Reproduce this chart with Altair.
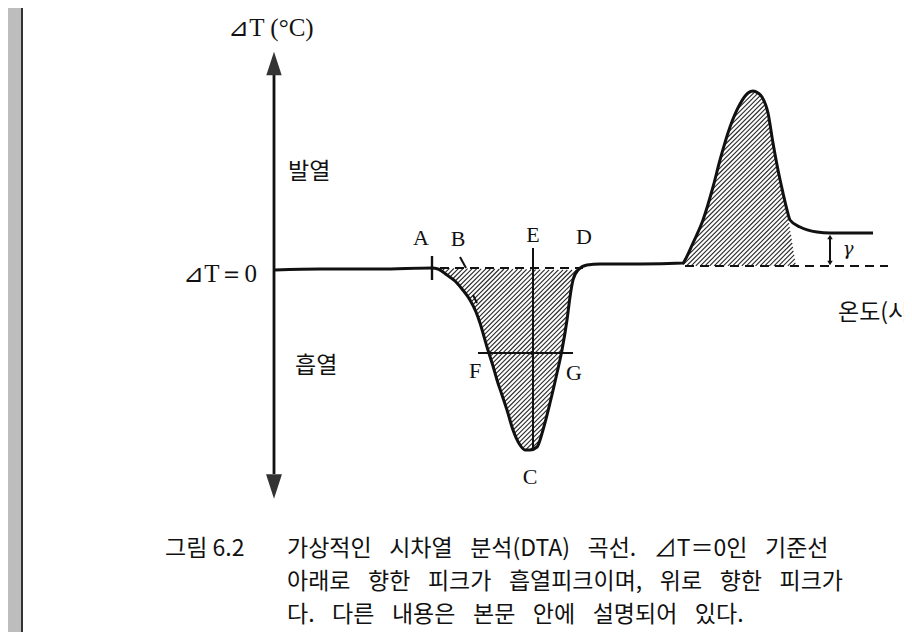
import altair as alt
import numpy as np
import pandas as pd

# ---------------- data ----------------
# temperature axis t (arbitrary units, 0 at the ΔT axis), ΔT in arbitrary units (0 = baseline)
curve_t = [0, 45, 105, 157, 163, 172, 180, 187, 195, 201, 205, 212, 218, 222, 227, 232, 238, 245, 250, 255,
           262, 268, 275, 282, 287, 292, 295, 298, 303, 312, 325, 365, 408, 410, 418, 428, 438, 445, 455, 465,
           473, 478, 483, 487, 493, 498, 503, 508, 512, 515, 525, 542, 555, 598]
curve_dT = [-2, -1, -1, 0, -1, -7, -13, -21, -32, -44, -55, -79, -98, -112, -127, -142, -162, -177, -182, -182,
            -179, -162, -135, -105, -82, -52, -29, -12, -2, 3, 4, 4, 5, 8, 25, 48, 81, 108, 141, 164,
            175, 177, 175, 171, 155, 125, 98, 75, 58, 48, 41, 36, 35, 35]

endo_range = (157, 303)          # hatched endothermic peak (A ... D)
exo_range = (408, 512)           # hatched exothermic peak
exo_close = [(521, 2), (408, 2)]  # right edge of the exothermic hatch, back along the baseline

label_text = ["A", "B", "E", "D", "F", "G", "C"]
label_t = [146, 183, 258, 309, 200, 299, 255]
label_dT = [30, 29, 33, 31, -103, -105, -209]

SP = "\u2002\u2009\u200a"  # wide word space of the caption typeface
caption_fig = "그림 6.2"
caption_lines = [
    SP.join(["가상적인", "시차열", "분석(DTA)", "곡선.", "⊿T＝0인", "기준선"]),
    SP.join(["아래로", "향한", "피크가", "흡열피크이며,", "위로", "향한", "피크가"]),
    SP.join(["다.", "다른", "내용은", "본문", "안에", "설명되어", "있다."]),
]

T_DOM = [-267, 629]
D_DOM = [-364, 260]

X = lambda f="t": alt.X(f, type="quantitative", scale=alt.Scale(domain=T_DOM, nice=False, zero=False), axis=None)
Y = lambda f="dT": alt.Y(f, type="quantitative", scale=alt.Scale(domain=D_DOM, nice=False, zero=False), axis=None)


def inside_poly(xs, ys, P):
    res = np.zeros(len(xs), bool)
    n = len(P)
    j = n - 1
    for i in range(n):
        xi, yi = P[i]
        xj, yj = P[j]
        cond = ((yi > ys) != (yj > ys)) & (xs < (xj - xi) * (ys - yi) / (yj - yi + 1e-12) + xi)
        res ^= cond
        j = i
    return res


def hatch(P, step=4.6):
    P = np.asarray(P, float)
    tmin, tmax = P[:, 0].min(), P[:, 0].max()
    dmin, dmax = P[:, 1].min(), P[:, 1].max()
    rows = []
    ks = np.arange(np.floor((tmin - dmax) / step) * step, tmax - dmin + step, step)
    ts = np.arange(tmin - 1, tmax + 1, 0.2)
    for k in ks:
        ds = ts - k
        ins = inside_poly(ts, ds, P).astype(int)
        d = np.diff(np.concatenate([[0], ins, [0]]))
        starts = np.where(d == 1)[0]
        ends = np.where(d == -1)[0] - 1
        for s, e in zip(starts, ends):
            if e > s:
                rows.append(dict(t=ts[s], dT=ds[s], t2=ts[e], dT2=ds[e]))
    return rows


ct = np.array(curve_t)
cd = np.array(curve_dT)
m = (ct >= endo_range[0]) & (ct <= endo_range[1])
endo_poly = list(zip(ct[m], cd[m]))
m2 = (ct >= exo_range[0]) & (ct <= exo_range[1])
exo_poly = list(zip(ct[m2], cd[m2])) + exo_close
hatch_df = pd.DataFrame(hatch(endo_poly) + hatch(exo_poly))

curve_df = pd.DataFrame({"t": curve_t, "dT": curve_dT, "i": range(len(curve_t))})

# ---------------- layers ----------------
strip = alt.Chart(pd.DataFrame({"t": [-267], "t2": [-254], "dT": [D_DOM[0]], "dT2": [D_DOM[1]]})).mark_rect(
    color="#bdbdbd").encode(x=X(), x2="t2", y=Y(), y2="dT2")
strip_line = alt.Chart(pd.DataFrame({"t": [-253], "dT": [D_DOM[0]], "dT2": [D_DOM[1]]})).mark_rule(
    color="#333333", strokeWidth=2).encode(x=X(), y=Y(), y2="dT2")

hatch_layer = alt.Chart(hatch_df).mark_rule(color="#111111", strokeWidth=1.1, opacity=0.9).encode(
    x=X(), y=Y(), x2="t2", y2="dT2")

dash_df = pd.DataFrame({"t": [165, 410], "t2": [308, 613], "dT": [0, 2], "g": ["endo", "exo"]})
dashes = alt.Chart(dash_df).mark_rule(color="#111111", strokeWidth=2.2, strokeDash=[9, 6]).encode(
    x=X(), x2="t2", y=Y())

axis_line = alt.Chart(pd.DataFrame({"t": [-1], "dT": [194], "dT2": [-206]})).mark_rule(
    color="#111111", strokeWidth=2.8).encode(x=X(), y=Y(), y2="dT2")
arrow_up = alt.Chart(pd.DataFrame({"t": [-1], "dT": [204.5]})).mark_point(
    shape="M0,-1L0.65,1L-0.65,1Z", size=560, filled=True, color="#333333", opacity=1).encode(x=X(), y=Y())
arrow_dn = alt.Chart(pd.DataFrame({"t": [-1], "dT": [-218.5]})).mark_point(
    shape="M0,1L0.65,-1L-0.65,-1Z", size=600, filled=True, color="#333333", opacity=1).encode(x=X(), y=Y())

seg_df = pd.DataFrame({
    "t":   [157, 185, 198, 258, 203, 555],
    "t2":  [157, 191, 202, 258, 298, 555],
    "dT":  [12, 11, -27, 20, -85, 31],
    "dT2": [-12, 0, -35, -182, -85, 5],
    "w":   [2.4, 2, 2, 2, 2, 2],
})
segs = alt.Chart(seg_df).mark_rule(color="#111111").encode(
    x=X(), x2="t2", y=Y(), y2="dT2", strokeWidth=alt.StrokeWidth("w:Q", scale=None))

gam_arrows = alt.Chart(pd.DataFrame({"t": [555, 555], "dT": [31, 5],
                                     "s": ["triangle-up", "triangle-down"]})).mark_point(
    size=30, filled=True, color="#111111", opacity=1).encode(x=X(), y=Y(), shape=alt.Shape("s:N", scale=None))
dot = alt.Chart(pd.DataFrame({"t": [257], "dT": [-85]})).mark_point(
    size=16, filled=True, color="#111111", opacity=1).encode(x=X(), y=Y())

curve = alt.Chart(curve_df).mark_line(color="#111111", strokeWidth=3, interpolate="monotone").encode(
    x=X(), y=Y(), order="i:Q")

labels = alt.Chart(pd.DataFrame({"t": label_t, "dT": label_dT, "txt": label_text})).mark_text(
    font="Liberation Serif", fontSize=22, color="#111111", baseline="middle", align="center").encode(
    x=X(), y=Y(), text="txt:N")
gamma = alt.Chart(pd.DataFrame({"t": [573], "dT": [18], "txt": ["γ"]})).mark_text(
    font="DejaVu Serif", fontStyle="italic", fontSize=18, color="#111111", baseline="middle", align="center").encode(
    x=X(), y=Y(), text="txt:N")

ax_title = alt.Chart(pd.DataFrame({"t": [-4], "dT": [240.5], "txt": ["⊿T (°C)"]})).mark_text(
    font="Liberation Serif", fontSize=25, color="#111111", baseline="middle", align="center").encode(
    x=X(), y=Y(), text="txt:N")
zero_lab = alt.Chart(pd.DataFrame({"t": [-18], "dT": [-6], "txt": ["⊿T＝0"]})).mark_text(
    font="Liberation Serif", fontSize=25, color="#111111", baseline="middle", align="right").encode(
    x=X(), y=Y(), text="txt:N")
kor_labs = alt.Chart(pd.DataFrame({"t": [13, 20, 563], "dT": [96, -98, -45],
                                   "txt": ["발열", "흡열", "온도(시간)"]})).mark_text(
    font="Noto Sans CJK KR", fontSize=23, color="#111111", baseline="middle", align="left").encode(
    x=X(), y=Y(), text="txt:N")

cap_df = pd.DataFrame({"t": [-110, 12, 12, 12], "dT": [-281, -281, -314, -347],
                       "txt": [caption_fig] + caption_lines})
caption = alt.Chart(cap_df).mark_text(
    font="Noto Sans CJK KR", fontSize=23, color="#111111", baseline="middle", align="left").encode(
    x=X(), y=Y(), text="txt:N")

chart = alt.layer(
    strip, strip_line, hatch_layer, dashes, axis_line, arrow_up, arrow_dn, segs, gam_arrows, dot, curve,
    labels, gamma, ax_title, zero_lab, kor_labs, caption
).properties(
    width=896, height=624, padding=0, autosize="none", background="white"
).configure_view(strokeWidth=0)

chart.save("out.html", embed_options={"renderer": "svg", "actions": False})
